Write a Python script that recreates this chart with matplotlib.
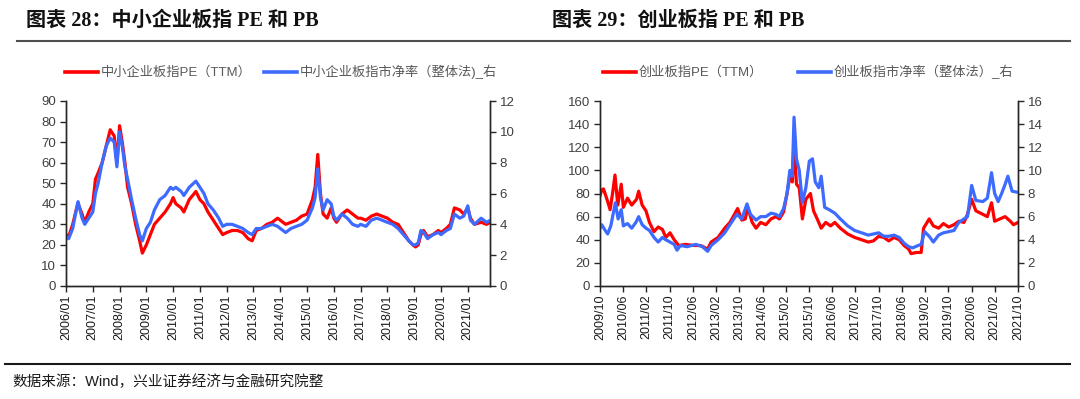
#!/usr/bin/env python3
"""
SME board and ChiNext valuation: PE (TTM) vs PB, two panels side by side.
"""

import numpy as np
import matplotlib
matplotlib.use('Agg')
import matplotlib.pyplot as plt
from matplotlib.lines import Line2D

plt.rcParams['font.family'] = ['Liberation Sans', 'Noto Sans CJK SC']
plt.rcParams['axes.unicode_minus'] = False

# ---- left panel: 中小企业板指 ----
sme_t = [2006.0, 2006.1, 2006.25, 2006.4, 2006.45, 2006.6, 2006.7, 2006.85,
         2007.0, 2007.1, 2007.2, 2007.35, 2007.5, 2007.65, 2007.8, 2007.9,
         2008.0, 2008.1, 2008.2, 2008.3, 2008.45, 2008.6, 2008.75, 2008.85,
         2009.0, 2009.15, 2009.3, 2009.5, 2009.7, 2009.9,
         2010.0, 2010.1, 2010.3, 2010.4, 2010.6, 2010.85,
         2011.0, 2011.15, 2011.3, 2011.5, 2011.7, 2011.85,
         2012.0, 2012.2, 2012.4, 2012.6, 2012.8, 2012.95,
         2013.1, 2013.3, 2013.5, 2013.7, 2013.9,
         2014.0, 2014.2, 2014.4, 2014.6, 2014.8,
         2015.0, 2015.2, 2015.3, 2015.4, 2015.5, 2015.6, 2015.75, 2015.9,
         2016.0, 2016.1, 2016.3, 2016.5, 2016.7, 2016.9,
         2017.0, 2017.2, 2017.4, 2017.6, 2017.8,
         2018.0, 2018.2, 2018.4, 2018.6, 2018.8, 2018.95,
         2019.05, 2019.15, 2019.25, 2019.35, 2019.5, 2019.7, 2019.9,
         2020.0, 2020.2, 2020.35, 2020.5, 2020.7, 2020.85,
         2021.0, 2021.1, 2021.25, 2021.5, 2021.7, 2021.85]
sme_pe = [25, 24, 30, 38, 40, 35, 31, 36,
          40, 52, 55, 60, 68, 76, 73, 60,
          78, 70, 60, 48, 40, 30, 22, 16,
          20, 25, 30, 33, 36, 40,
          43, 40, 38, 36, 42, 46,
          42, 40, 36, 32, 28, 25,
          26, 27, 27, 26, 23, 22,
          27, 28, 30, 31, 33,
          32, 30, 31, 32, 34,
          35, 42, 48, 64, 45, 35, 33, 38,
          33, 31, 35, 37, 35, 33,
          33, 32, 34, 35, 34,
          33, 31, 30, 26, 22, 20,
          19, 20, 25, 27, 24, 25, 27,
          26, 28, 30, 38, 37, 35,
          38, 33, 30, 31, 30, 31]
sme_pb = [3.2, 3.07, 3.73, 5.07, 5.47, 4.4, 4.0, 4.4,
          4.8, 6.0, 6.67, 8.0, 9.07, 9.6, 9.33, 7.73,
          10.0, 9.07, 7.73, 6.93, 5.6, 4.4, 3.33, 2.93,
          3.73, 4.13, 4.93, 5.6, 5.87, 6.4,
          6.27, 6.4, 6.13, 5.87, 6.4, 6.8,
          6.4, 6.0, 5.33, 4.93, 4.4, 3.87,
          4.0, 4.0, 3.87, 3.73, 3.47, 3.33,
          3.73, 3.73, 3.87, 4.0, 3.87,
          3.73, 3.47, 3.73, 3.87, 4.0,
          4.27, 5.07, 5.73, 7.6, 5.73, 4.93, 5.6, 5.33,
          4.53, 4.27, 4.67, 4.4, 4.0, 3.87,
          4.0, 3.87, 4.27, 4.4, 4.27,
          4.13, 4.0, 3.73, 3.33, 2.93, 2.67,
          2.67, 2.8, 3.6, 3.47, 3.07, 3.33, 3.47,
          3.33, 3.6, 3.73, 4.67, 4.4, 4.53,
          5.2, 4.27, 4.0, 4.4, 4.13, 4.27]
sme_ticks = ['2006/01', '2007/01', '2008/01', '2009/01', '2010/01', '2011/01',
             '2012/01', '2013/01', '2014/01', '2015/01', '2016/01', '2017/01',
             '2018/01', '2019/01', '2020/01', '2021/01']

# ---- right panel: 创业板指 ----
gem_pe_t = [2009.75, 2009.80, 2009.85, 2009.95, 2010.04, 2010.11, 2010.18, 2010.26,
            2010.36, 2010.42, 2010.54, 2010.66, 2010.80, 2010.86, 2010.96, 2011.07,
            2011.17, 2011.30, 2011.42, 2011.54, 2011.64, 2011.76, 2011.88, 2012.01,
            2012.20, 2012.45, 2012.64, 2012.84, 2012.94, 2013.14, 2013.33, 2013.48,
            2013.61, 2013.70, 2013.82, 2013.92, 2013.99, 2014.12, 2014.23, 2014.36,
            2014.51, 2014.66, 2014.80, 2014.90, 2015.02, 2015.12, 2015.20, 2015.27,
            2015.32, 2015.39, 2015.47, 2015.56, 2015.66, 2015.79, 2015.88, 2016.03,
            2016.10, 2016.23, 2016.37, 2016.49, 2016.65, 2016.86, 2017.06, 2017.26,
            2017.45, 2017.60, 2017.75, 2017.90, 2018.04, 2018.19, 2018.34, 2018.48,
            2018.61, 2018.68, 2018.83, 2018.97, 2019.04, 2019.20, 2019.32, 2019.47,
            2019.61, 2019.76, 2019.91, 2020.05, 2020.20, 2020.30, 2020.42, 2020.54,
            2020.74, 2020.87, 2020.99, 2021.08, 2021.23, 2021.38, 2021.53, 2021.62,
            2021.75]
gem_pe = [78, 83, 84, 75, 66, 80, 96, 70,
          88, 68, 76, 70, 75, 82, 70, 65,
          55, 47, 51, 49, 42, 46, 40, 35,
          36, 35, 35, 32, 38, 42, 50, 55,
          62, 67, 57, 58, 68, 55, 50, 55,
          53, 58, 60, 58, 64, 80, 95, 90,
          125, 88, 85, 58, 75, 80, 65, 55,
          50, 55, 52, 55, 50, 45, 42, 40,
          38, 39, 43, 42, 39, 42, 40, 35,
          32, 28, 29, 29, 50, 58, 52, 50,
          54, 51, 53, 56, 55, 62, 75, 65,
          62, 60, 72, 56, 58, 60, 56, 53,
          55]
gem_pb_t = [2009.75, 2009.80, 2009.90, 2009.97, 2010.06, 2010.19, 2010.27, 2010.36,
            2010.42, 2010.54, 2010.66, 2010.78, 2010.86, 2010.96, 2011.07, 2011.17,
            2011.30, 2011.42, 2011.54, 2011.64, 2011.76, 2011.88, 2011.96, 2012.06,
            2012.25, 2012.50, 2012.69, 2012.84, 2012.94, 2013.14, 2013.33, 2013.48,
            2013.68, 2013.82, 2013.97, 2014.07, 2014.23, 2014.36, 2014.51, 2014.66,
            2014.80, 2014.90, 2015.02, 2015.12, 2015.20, 2015.27, 2015.32, 2015.39,
            2015.47, 2015.56, 2015.66, 2015.76, 2015.85, 2015.93, 2016.03, 2016.10,
            2016.20, 2016.33, 2016.49, 2016.65, 2016.86, 2017.06, 2017.26, 2017.45,
            2017.60, 2017.75, 2017.90, 2018.04, 2018.19, 2018.34, 2018.48, 2018.61,
            2018.73, 2018.88, 2018.97, 2019.07, 2019.20, 2019.32, 2019.47, 2019.61,
            2019.76, 2019.91, 2020.05, 2020.20, 2020.30, 2020.42, 2020.54, 2020.74,
            2020.87, 2020.99, 2021.08, 2021.18, 2021.28, 2021.38, 2021.46, 2021.58,
            2021.75]
gem_pb = [5.0, 5.3, 4.8, 4.5, 5.2, 7.2, 5.8, 6.6,
          5.2, 5.4, 5.0, 5.5, 6.0, 5.3, 5.0, 4.8,
          4.2, 3.8, 4.2, 4.0, 3.8, 3.6, 3.1, 3.5,
          3.4, 3.6, 3.4, 3.0, 3.5, 4.0, 4.6, 5.3,
          6.2, 5.8, 7.1, 6.2, 5.7, 6.0, 6.0, 6.3,
          6.2, 6.0, 6.7, 8.0, 10.0, 9.5, 14.6, 11.0,
          10.0, 7.2, 8.5, 10.8, 11.0, 9.0, 8.5, 9.5,
          6.8, 6.6, 6.3, 5.8, 5.2, 4.8, 4.6, 4.4,
          4.5, 4.6, 4.3, 4.3, 4.4, 4.2, 3.7, 3.4,
          3.3, 3.5, 3.6, 4.7, 4.3, 3.8, 4.4, 4.6,
          4.7, 4.8, 5.5, 5.8, 6.0, 8.7, 7.4, 7.3,
          7.6, 9.8, 8.0, 7.3, 8.0, 8.8, 9.5, 8.2,
          8.1]
gem_ticks = ['2009/10', '2010/06', '2011/02', '2011/10', '2012/06', '2013/02',
             '2013/10', '2014/06', '2015/02', '2015/10', '2016/06', '2017/02',
             '2017/10', '2018/06', '2019/02', '2019/10', '2020/06', '2021/02',
             '2021/10']

RED = '#FF0000'
BLUE = '#3D6BFF'
TICK_GREY = '#404040'
TEXT_GREY = '#595959'
W, H = 1080, 399


def tick_pos(labels):
    """'YYYY/MM' -> fractional year."""
    return [int(s[:4]) + (int(s[5:]) - 1) / 12 for s in labels]


def draw_panel(rect, t_pe, pe, t_pb, pb, ticks, xlim, pe_max, pe_step, pb_max, labels, leg_x, colspace):
    ax = fig.add_axes(rect)
    ax2 = ax.twinx()
    ax.plot(t_pe, pe, color=RED, lw=2.3, solid_joinstyle='round')
    ax2.plot(t_pb, pb, color=BLUE, lw=2.3, solid_joinstyle='round')

    ax.set_xlim(*xlim)
    ax.set_ylim(0, pe_max)
    ax.set_yticks(np.arange(0, pe_max + 1, pe_step))
    ax2.set_ylim(0, pb_max)
    ax2.set_yticks(np.arange(0, pb_max + 1, 2))
    ax.set_xticks(tick_pos(ticks))
    ax.set_xticklabels(ticks, rotation=90)

    for a in (ax, ax2):
        a.spines['top'].set_visible(False)
        for s in ('left', 'right', 'bottom'):
            a.spines[s].set_color('#262626')
            a.spines[s].set_linewidth(1.0)
        a.tick_params(axis='y', direction='out', length=4, width=1, color='#262626',
                      labelsize=9.5, labelcolor=TICK_GREY, pad=3)
    ax.tick_params(axis='x', direction='out', length=4, width=1, color='#262626',
                   labelsize=9, labelcolor='#1a1a1a', pad=2)

    handles = [Line2D([], [], color=RED, lw=2.6), Line2D([], [], color=BLUE, lw=2.6)]
    fig.legend(handles, labels, loc='center', bbox_to_anchor=(leg_x, 1 - 72 / H),
               ncol=2, frameon=False, fontsize=9.5, handlelength=2.5, handletextpad=0.25,
               columnspacing=colspace, labelcolor=TEXT_GREY)
    return ax, ax2


fig = plt.figure(figsize=(W / 100, H / 100), dpi=100)

title_font = ['Liberation Serif', 'Noto Sans CJK SC']
fig.text(26 / W, 1 - 21 / H, '图表 28：中小企业板指 PE 和 PB', family=title_font,
         fontsize=14.5, fontweight='bold', va='center', ha='left', color='#111111')
fig.text(552 / W, 1 - 21 / H, '图表 29：创业板指 PE 和 PB', family=title_font,
         fontsize=14.5, fontweight='bold', va='center', ha='left', color='#111111')

# separator rules
fig.add_artist(Line2D([17 / W, 1070 / W], [1 - 41 / H, 1 - 41 / H], color='#505050', lw=1.5))
fig.add_artist(Line2D([5 / W, 1070 / W], [1 - 364 / H, 1 - 364 / H], color='#1a1a1a', lw=1.5))

fig.text(12 / W, 1 - 382 / H, '数据来源：Wind，兴业证券经济与金融研究院整',
         fontsize=10.5, va='center', ha='left', color='#1a1a1a')

ax_y0 = 1 - 286 / H
ax_h = (286 - 101) / H
draw_panel([66 / W, ax_y0, (490 - 66) / W, ax_h], sme_t, sme_pe, sme_t, sme_pb,
           sme_ticks, (2006.0, 2021.83), 90, 10, 12,
           ['中小企业板指PE（TTM）', '中小企业板指市净率（整体法)_右'], 281 / W, 0.9)
draw_panel([600 / W, ax_y0, (1018 - 600) / W, ax_h], gem_pe_t, gem_pe, gem_pb_t, gem_pb,
           gem_ticks, (2009.75, 2021.75), 160, 20, 16,
           ['创业板指PE（TTM）', '创业板指市净率（整体法）_右'], 808 / W, 2.6)

fig.savefig('out.png', dpi=100)
